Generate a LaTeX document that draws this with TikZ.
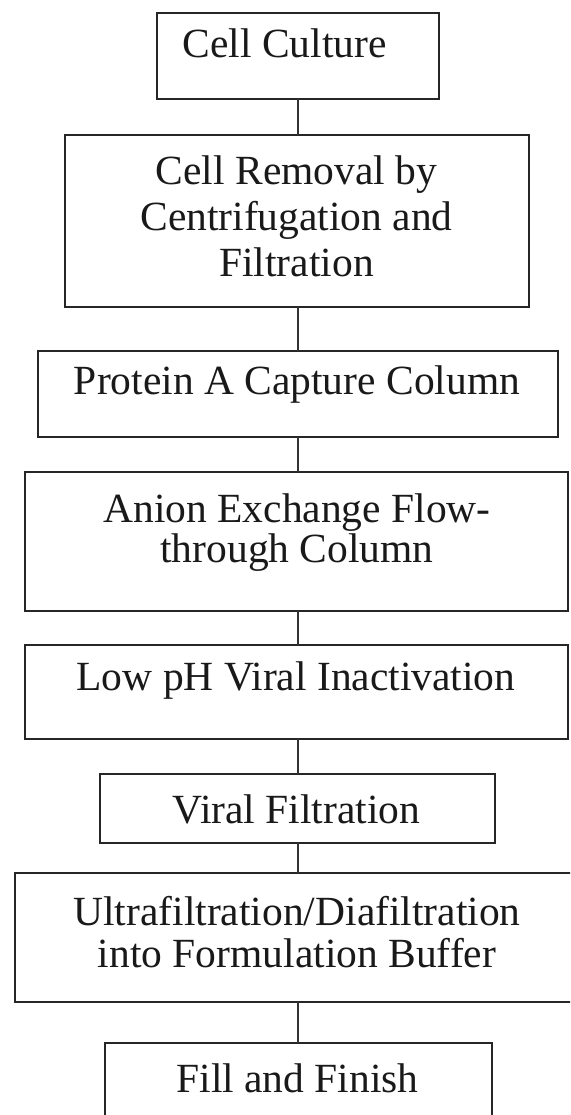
\documentclass[tikz,border=0pt]{standalone}
\usepackage{fontspec}
\setmainfont{Liberation Serif}
\begin{document}
\begin{tikzpicture}[x=1pt,y=-1pt,
  stepbox/.style={draw=black!85, line width=2.8pt, inner sep=0pt, outer sep=0pt},
  lbl/.style={inner sep=0pt, font=\fontsize{41.5}{43}\selectfont, align=center, text=black!90, anchor=base},
  link/.style={draw=black!80, line width=2.4pt}]
\useasboundingbox (0,0) rectangle (570,1115);
\clip (0,0) rectangle (570,1115);
% boxes
\node[stepbox, minimum width=282pt, minimum height=86pt]  (b1) at (298,56) {};
\node[stepbox, minimum width=464pt, minimum height=172pt] (b2) at (297,221) {};
\node[stepbox, minimum width=520pt, minimum height=86pt]  (b3) at (298,394) {};
\node[stepbox, minimum width=543pt, minimum height=139pt] (b4) at (296.5,541.5) {};
\node[stepbox, minimum width=543pt, minimum height=94pt]  (b5) at (296.5,692) {};
\node[stepbox, minimum width=395pt, minimum height=69pt]  (b6) at (297.5,808.5) {};
\node[stepbox, minimum width=567pt, minimum height=129pt] (b7) at (298.5,937.5) {};
\node[stepbox, minimum width=387pt, minimum height=84pt]  (b8) at (298.5,1085) {};
% texts (anchor base = baseline of the last line)
\node[lbl] (t1) at (284.5,58) {Cell Culture};
\node[lbl, font=\fontsize{41.5}{45.5}\selectfont] (t2) at (296.5,276) {Cell Removal by\\Centrifugation and\\Filtration};
\node[lbl] (t3) at (297,394) {Protein A Capture Column};
\node[lbl, font=\fontsize{41.5}{40}\selectfont] (t4) at (297,562) {Anion Exchange Flow-\\through Column};
\node[lbl, font=\fontsize{41.5}{42}\selectfont] (t5) at (296,690) {Low pH Viral Inactivation};
\node[lbl] (t6) at (296.5,823) {Viral Filtration};
\node[lbl, font=\fontsize{41.5}{42}\selectfont] (t7) at (297,967) {Ultrafiltration/Diafiltration\\into Formulation Buffer};
\node[lbl] (t8) at (297.5,1092) {Fill and Finish};
% connectors
\foreach \a/\b in {b1/b2,b2/b3,b3/b4,b4/b5,b5/b6,b6/b7,b7/b8}
  \draw[link] (\a.south -| b1.south) -- (\b.north -| b1.south);
\end{tikzpicture}
\end{document}
